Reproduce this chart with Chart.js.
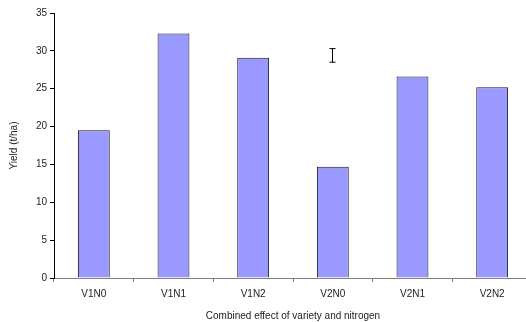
<!DOCTYPE html>
<html>
<head>
<meta charset="utf-8">
<script src="https://cdn.jsdelivr.net/npm/chart.js@4/dist/chart.umd.min.js"></script>
<style>
  html, body { margin: 0; padding: 0; overflow: hidden; background: #fff; }
</style>
</head>
<body>
<canvas id="myChart" width="534" height="322" style="display:block;width:534px;height:322px"></canvas>
<script>
const categories = ["V1N0", "V1N1", "V1N2", "V2N0", "V2N1", "V2N2"];
const yieldValues = [19.5, 32.3, 29.1, 14.7, 26.6, 25.2];
// lone error bar seen above V2N0
const errorIndex = [3];
const errorCenter = [29.4];
const errorHalf = [0.9];

const errorBars = {
    id: "errorBars",
    afterDatasetsDraw(chart) {
        const ctx = chart.ctx;
        const x = chart.scales.x, y = chart.scales.y;
        ctx.save();
        ctx.strokeStyle = "#000";
        ctx.lineWidth = 1;
        errorIndex.forEach((idx, i) => {
            const px = Math.round(x.getPixelForValue(idx)) - 0.5;
            const top = y.getPixelForValue(errorCenter[i] + errorHalf[i]);
            const bot = y.getPixelForValue(errorCenter[i] - errorHalf[i]);
            ctx.beginPath();
            ctx.moveTo(px, top); ctx.lineTo(px, bot);
            ctx.moveTo(px - 3, top); ctx.lineTo(px + 3, top);
            ctx.moveTo(px - 3, bot); ctx.lineTo(px + 3, bot);
            ctx.stroke();
        });
        ctx.restore();
    }
};

const font = { family: "'Liberation Sans', Arial, sans-serif", size: 10 };

new Chart(document.getElementById("myChart").getContext("2d"), {
    type: "bar",
    data: {
        labels: categories,
        datasets: [{
            label: "Yield",
            data: yieldValues,
            backgroundColor: "#9999FF",
            borderColor: "#1a1a1a",
            borderWidth: 1,
            categoryPercentage: 1,
            barPercentage: 0.4
        }]
    },
    options: {
        responsive: false,
        animation: false,
        layout: { padding: { top: 13, right: 2, left: 0, bottom: 0 } },
        plugins: { legend: { display: false }, tooltip: { enabled: false } },
        scales: {
            x: {
                offset: true,
                grid: { offset: true, drawOnChartArea: false, tickLength: 4, color: "#808080" },
                border: { color: "#808080" },
                ticks: { color: "#222", font: font, padding: 6, maxRotation: 0 },
                title: { display: true, text: "Combined effect of variety and nitrogen", color: "#222", font: font, padding: { top: 0, bottom: 0 } },
                afterFit(scale) { scale.height = 44; }
            },
            y: {
                min: 0, max: 35,
                ticks: { stepSize: 5, color: "#222", font: font, padding: 3 },
                grid: { drawOnChartArea: false, tickLength: 4, color: "#000" },
                border: { color: "#000" },
                title: { display: true, text: "Yield (t/ha)", color: "#222", font: font, padding: { top: 8, bottom: 0 } },
                afterFit(scale) { scale.width = 54; }
            }
        }
    },
    plugins: [errorBars]
});
</script>
</body>
</html>
